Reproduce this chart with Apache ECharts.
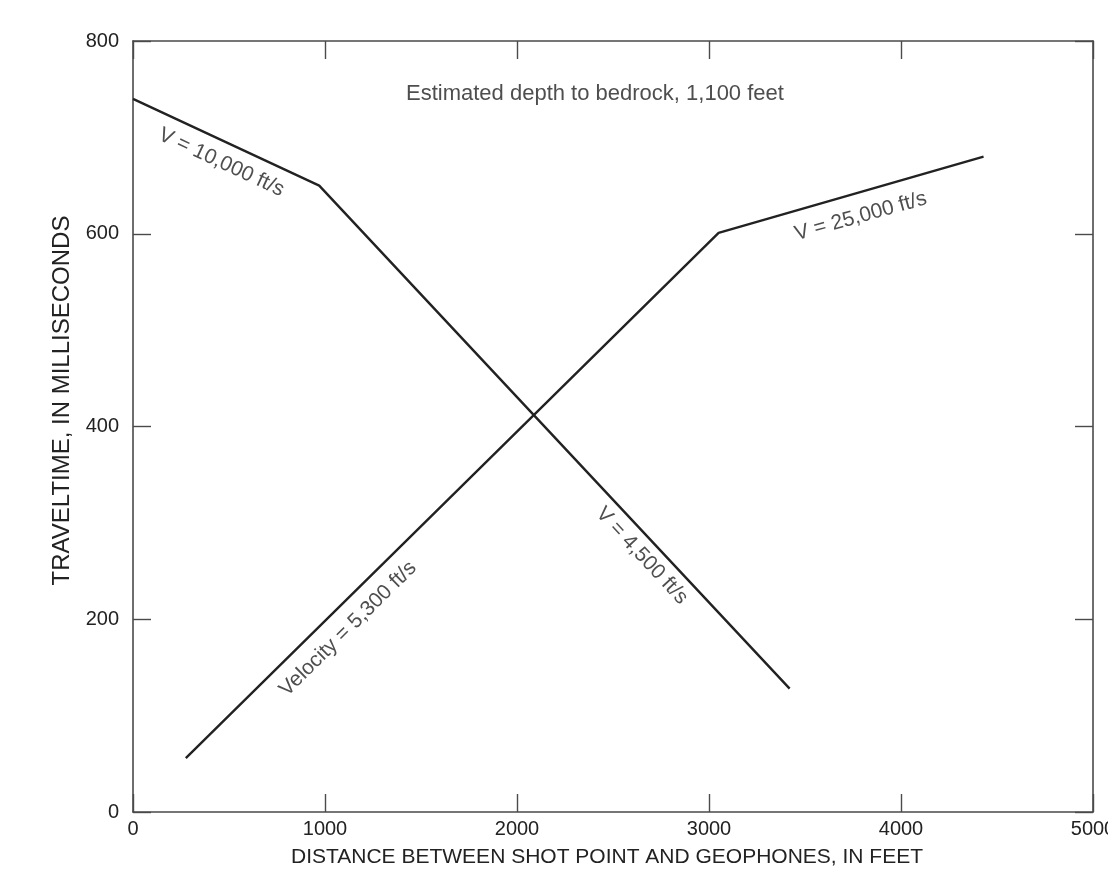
<!DOCTYPE html>
<html>
<head>
<meta charset="utf-8">
<script src="https://cdn.jsdelivr.net/npm/echarts@6/dist/echarts.min.js"></script>
<style>html,body{margin:0;padding:0;background:#fff;overflow:hidden;}#c{width:1108px;height:879px;}</style>
</head>
<body>
<div id="c"></div>
<script>
// Data
const directLine = [[0, 740], [970, 650], [3420, 128]];     // descending traveltime curve
const reverseLine = [[275, 56], [3050, 601], [4430, 680]];  // ascending traveltime curve
const xTicks = [0, 1000, 2000, 3000, 4000, 5000];
const yTicks = [0, 200, 400, 600, 800];
const annotations = [
  { text: 'Estimated depth to bedrock, 1,100 feet', at: [2406, 745], angle: 0, size: 22 },
  { text: 'V = 10,000 ft/s', at: [460, 674], angle: -25, size: 21 },
  { text: 'V = 4,500 ft/s', at: [2650, 266], angle: -47, size: 21 },
  { text: 'Velocity = 5,300 ft/s', at: [1120, 190], angle: 44.5, size: 21 },
  { text: 'V = 25,000 ft/s', at: [3790, 618], angle: 15.5, size: 21 }
];
const xTitle = 'DISTANCE BETWEEN SHOT POINT AND GEOPHONES, IN FEET';
const yTitle = 'TRAVELTIME, IN MILLISECONDS';

const FONT = '"Liberation Sans", Arial, sans-serif';
const INK = '#222222';
const AX = '#4a4a4a';

const chart = echarts.init(document.getElementById('c'));
const xMin = xTicks[0], xMax = xTicks[xTicks.length - 1], xInt = xTicks[1] - xTicks[0];
const yMin = yTicks[0], yMax = yTicks[yTicks.length - 1], yInt = yTicks[1] - yTicks[0];

function axisBase(show) {
  return {
    type: 'value',
    axisLine: { show: true, onZero: false, lineStyle: { color: AX, width: 1.6 } },
    axisTick: { show: true, inside: true, length: 18, lineStyle: { color: AX, width: 1.4 } },
    splitLine: { show: false },
    axisLabel: { show: show, color: INK, fontFamily: FONT, fontSize: 20, formatter: v => String(v) }
  };
}

const option = {
  animation: false,
  backgroundColor: '#fff',
  grid: { left: 133, right: 15, top: 41, bottom: 67, containLabel: false, outerBoundsMode: 'none' },
  xAxis: [
    Object.assign(axisBase(true), {
      position: 'bottom', min: xMin, max: xMax, interval: xInt,
      name: xTitle, nameLocation: 'middle', nameGap: 35,
      nameTextStyle: { color: INK, fontFamily: FONT, fontSize: 21, padding: [0, 12, 0, 0] },
      axisLabel: { show: true, color: INK, fontFamily: FONT, fontSize: 20, margin: 7, formatter: v => String(v) }
    }),
    Object.assign(axisBase(false), { position: 'top', min: xMin, max: xMax, interval: xInt })
  ],
  yAxis: [
    Object.assign(axisBase(true), {
      position: 'left', min: yMin, max: yMax, interval: yInt,
      name: yTitle, nameLocation: 'middle', nameGap: 55,
      nameTextStyle: { color: INK, fontFamily: FONT, fontSize: 24, padding: [0, 0, 0, 52] },
      axisLabel: { show: true, color: INK, fontFamily: FONT, fontSize: 20, margin: 14, formatter: v => String(v) }
    }),
    Object.assign(axisBase(false), { position: 'right', min: yMin, max: yMax, interval: yInt })
  ],
  series: [
    {
      type: 'line', data: directLine, symbol: 'none',
      lineStyle: { color: INK, width: 2.4 }
    },
    {
      type: 'line', data: reverseLine, symbol: 'none',
      lineStyle: { color: INK, width: 2.4 }
    },
    {
      type: 'scatter', symbolSize: 0, silent: true,
      data: annotations.map(a => ({
        value: a.at,
        label: {
          show: true, position: 'inside', rotate: a.angle,
          formatter: a.text, color: INK, fontFamily: FONT, fontSize: a.size
        }
      }))
    }
  ]
};
chart.setOption(option);
</script>
</body>
</html>
